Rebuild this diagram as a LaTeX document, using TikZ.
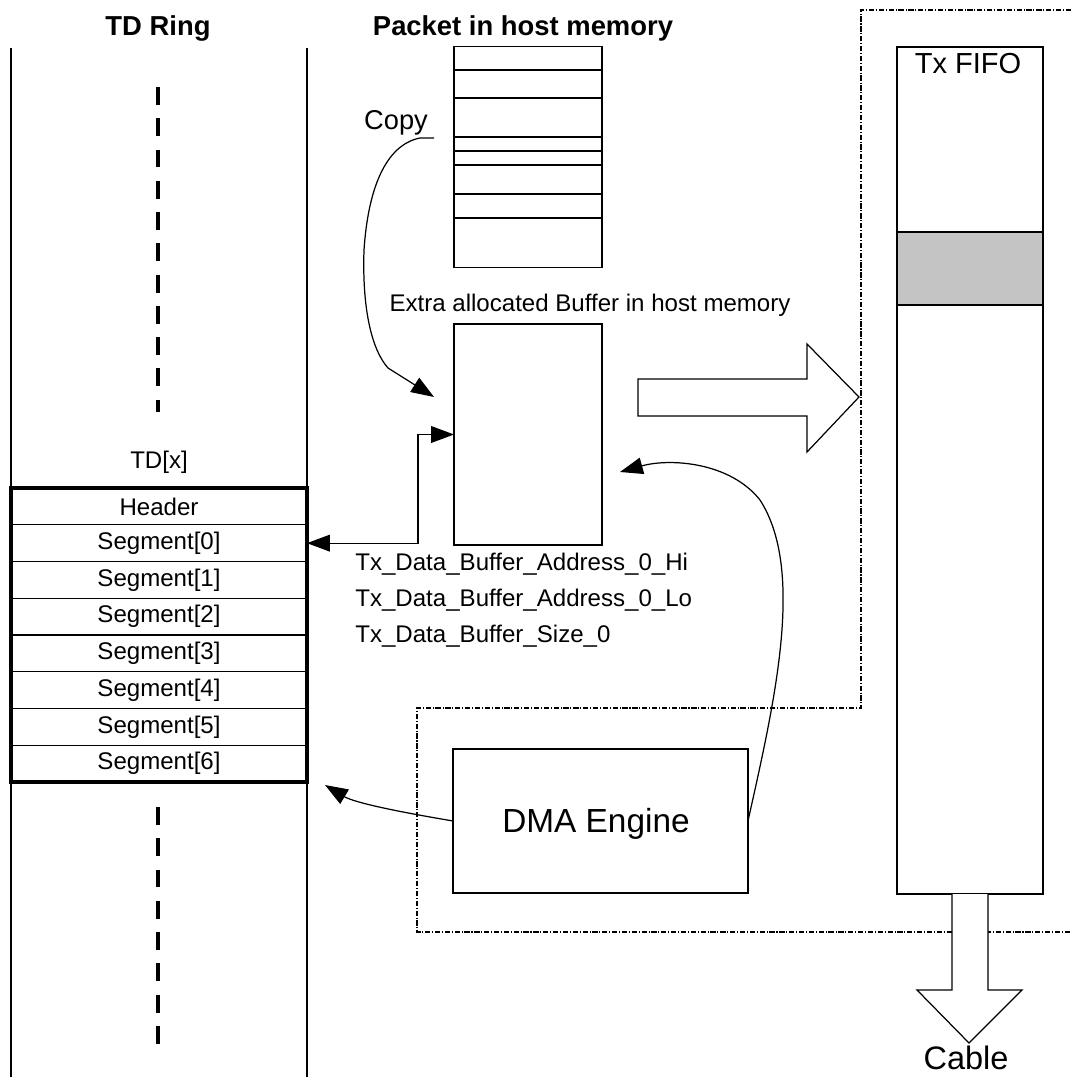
\documentclass[tikz,border=0pt]{standalone}
\usepackage{fontspec}
\setmainfont{Liberation Sans}
\usetikzlibrary{arrows.meta,positioning}
\tikzset{
  box/.style={draw, line width=0.7pt, inner sep=0pt, outer sep=0pt},
  slot/.style={box, minimum width=5.92cm, minimum height=0.735cm, font=\fontsize{13.7}{16}\selectfont},
  lbl/.style={font=\fontsize{13.7}{16}\selectfont, inner sep=0pt, anchor=base},
  heading/.style={font=\fontsize{15.6}{18}\selectfont\bfseries, inner sep=0pt, anchor=base},
  link/.style={line width=0.7pt, -{Triangle[length=13pt,width=9.5pt]}},
  ringdash/.style={line width=2.8pt, dash pattern=on 10.2pt off 7.6pt},
  zone/.style={line width=0.6pt, dash pattern=on 3pt off 1pt on 0.6pt off 1pt},
  hollow/.style={draw, line width=0.7pt, fill=white},
}
\begin{document}
\begin{tikzpicture}[x=0.02cm, y=-0.02cm]
  \useasboundingbox (0,0) rectangle (1071,1077);
  \draw[zone] (1071,10) -- (861,10) -- (861,708) -- (417,708) -- (417,932) -- (1071,932);
  \draw[line width=0.7pt] (11,48) -- (11,1077) (307,48) -- (307,1077);
  \draw[ringdash] (158,87) -- (158,412);
  \draw[ringdash] (158,807) -- (158,1048);
  \node[heading] (ring) at (158,36) {TD Ring};
  \node[lbl] (tdx) at (159,468) {TD[x]};
  \node[slot] (hdr) at (159,506.4) {Header};
  \foreach \i/\p in {0/hdr,1/seg0,2/seg1,3/seg2,4/seg3,5/seg4,6/seg5}
    \node[slot, below=0pt of \p] (seg\i) {Segment[\i]};
  \draw[line width=2.2pt] (hdr.north west) rectangle (seg6.south east);
  \node[heading] (pkttitle) at (523,36) {Packet in host memory};
  \node[box, minimum width=2.96cm, minimum height=4.42cm] (pkt) at (528,156.7) {};
  \foreach \y in {70,98,137,151,165,194,218}
    \draw[line width=0.7pt] (454,\y) -- (602,\y);
  \node[font=\fontsize{15.5}{18}\selectfont, inner sep=0pt, anchor=base] (copy) at (396,130) {Copy};
  \node[lbl] (extra) at (590,312) {Extra allocated Buffer in host memory};
  \node[box, minimum width=2.96cm, minimum height=4.42cm] (buf) at (528,434.5) {};
  \node[lbl, anchor=base west] (hi) at (355,570) {Tx\_Data\_Buffer\_Address\_0\_Hi};
  \node[lbl, anchor=base west] (lo) at (355,606) {Tx\_Data\_Buffer\_Address\_0\_Lo};
  \node[lbl, anchor=base west] (size) at (355,642) {Tx\_Data\_Buffer\_Size\_0};
  \node[box, minimum width=5.9cm, minimum height=2.88cm] (dma) at (600.5,821) {};
  \node[font=\fontsize{19}{22}\selectfont, inner sep=0pt, anchor=base] (dmatext) at (596,832) {DMA Engine};
  \node[box, minimum width=2.92cm, minimum height=16.94cm] (fifo) at (970,470.5) {};
  \draw[line width=0.7pt, fill=black!23] (897,232) rectangle (1043,305);
  \node[font=\fontsize{16.5}{19}\selectfont, inner sep=0pt, anchor=base] (fifotext) at (968,74) {Tx FIFO};
  \draw[hollow] (638,379) -- (807,379) -- (807,344) -- (859,397) -- (807,452) -- (807,416) -- (638,416) -- cycle;
  \draw[hollow] (952,894) -- (952,990) -- (917,990) -- (969,1043) -- (1022,990) -- (988,990) -- (988,894);
  \node[font=\fontsize{18.5}{21}\selectfont, inner sep=0pt, anchor=base] (cable) at (966,1069) {Cable};
  \coordinate (cpy) at (434,138);
  \coordinate (cpyend) at (434,397);
  \coordinate (bufin) at (620,472);
  \coordinate (segin) at (325,785);
  \draw[link] (cpy) -- (420,138) .. controls (385,145) and (368,190) .. (364,250)
    .. controls (362,310) and (372,350) .. (388,368) -- (cpyend);
  \draw[line width=0.7pt, {Triangle[length=13pt,width=9.5pt]}-{Triangle[length=13pt,width=9.5pt]}]
    (seg0.east) -- ++(111,0) |- (buf.west);
  \draw[link] (dma.east) .. controls (775,700) and (805,570) .. (760,500)
    .. controls (730,462) and (670,458) .. (bufin);
  \draw[link] (dma.west) .. controls (400,812) and (355,803) .. (segin);
\end{tikzpicture}
\end{document}
